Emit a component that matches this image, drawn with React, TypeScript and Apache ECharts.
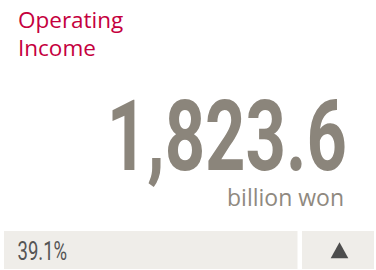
import React, { useEffect, useRef } from "react";
import * as echarts from "echarts";

const titleLines: string[] = ["Operating", "Income"];
const values: number[] = [1823.6];
const unitLabels: string[] = ["billion won"];
const changePercents: number[] = [39.1];
const changeDirections: string[] = ["up"];

const fmt = (v: number) =>
  v.toLocaleString("en-US", { minimumFractionDigits: 1, maximumFractionDigits: 1 });

export default function App() {
  const ref = useRef<HTMLDivElement>(null);
  useEffect(() => {
    if (!ref.current) return;
    const chart = echarts.init(ref.current, null, { renderer: "svg" });
    const up = changeDirections[0] === "up";
    chart.setOption({
      animation: false,
      backgroundColor: "#ffffff",
      graphic: [
        {
          type: "text",
          x: 18,
          y: 6,
          style: {
            text: titleLines.join("\n"),
            fontFamily: "'Open Sans'",
            fontSize: 22.5,
            lineHeight: 27.5,
            fill: "#c5003e",
            textAlign: "left",
            textVerticalAlign: "top",
          },
        },
        {
          type: "text",
          x: 347,
          y: 137,
          scaleX: 0.72,
          style: {
            text: fmt(values[0]),
            font: "bold 98px Roboto",
            fill: "#8b857b",
            textAlign: "right",
            textVerticalAlign: "middle",
          },
        },
        {
          type: "text",
          x: 344,
          y: 196.5,
          style: {
            text: unitLabels[0],
            fontFamily: "'Open Sans'",
            fontSize: 23,
            fill: "#8f897f",
            textAlign: "right",
            textVerticalAlign: "middle",
          },
        },
        {
          type: "rect",
          shape: { x: 4, y: 231, width: 293.5, height: 38 },
          style: { fill: "#efede9" },
        },
        {
          type: "rect",
          shape: { x: 302, y: 231, width: 72, height: 38 },
          style: { fill: "#efede9" },
        },
        {
          type: "text",
          x: 17.5,
          y: 251,
          scaleX: 0.74,
          style: {
            text: changePercents[0].toFixed(1) + "%",
            font: "25px Roboto",
            fill: "#555555",
            textAlign: "left",
            textVerticalAlign: "middle",
          },
        },
        {
          type: "polygon",
          shape: {
            points: up
              ? [
                  [339.5, 242.3],
                  [348.3, 258.3],
                  [330.7, 258.3],
                ]
              : [
                  [339.5, 258.3],
                  [348.3, 242.3],
                  [330.7, 242.3],
                ],
          },
          style: { fill: "#4d4d4d" },
        },
      ],
    });
    return () => chart.dispose();
  }, []);
  return (
    <div
      ref={ref}
      style={{ position: "fixed", left: 0, top: 0, width: 376, height: 270 }}
    />
  );
}
